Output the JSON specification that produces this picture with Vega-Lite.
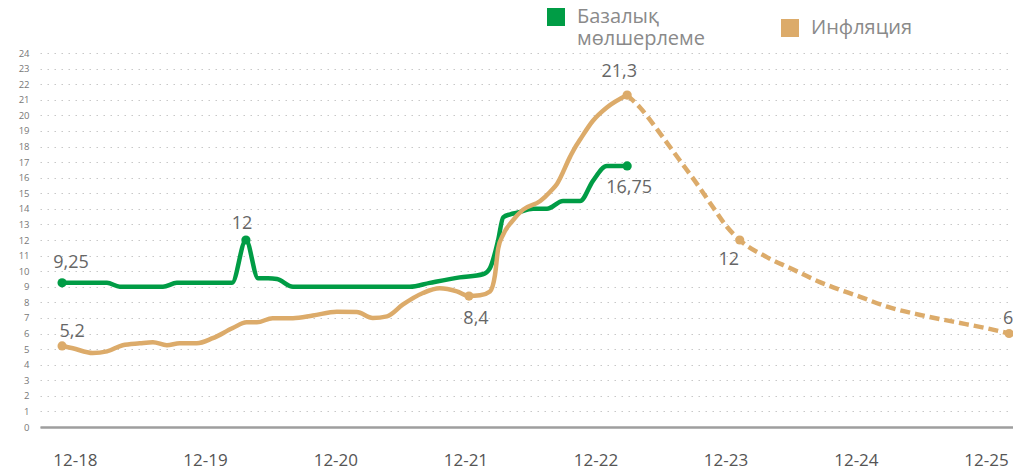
{
  "$schema": "https://vega.github.io/schema/vega-lite/v6.json",
  "width": 973,
  "height": 374,
  "autosize": {"type": "none"},
  "padding": {"left": 40, "top": 53, "right": 0, "bottom": 43},
  "background": "#ffffff",
  "config": {
    "view": {"stroke": null},
    "font": "Open Sans",
    "axis": {"labelFont": "Open Sans"},
    "legend": {"labelFont": "Open Sans"}
  },
  "data": {
    "values": [
      {"date": "2018-10-26", "value": 9.25, "series": "Базалық мөлшерлеме", "type": "fact", "label": "9,25"},
      {"date": "2019-01-12", "value": 9.25, "series": "Базалық мөлшерлеме", "type": "fact"},
      {"date": "2019-03-01", "value": 9.25, "series": "Базалық мөлшерлеме", "type": "fact"},
      {"date": "2019-04-06", "value": 9.0, "series": "Базалық мөлшерлеме", "type": "fact"},
      {"date": "2019-06-01", "value": 9.0, "series": "Базалық мөлшерлеме", "type": "fact"},
      {"date": "2019-08-05", "value": 9.0, "series": "Базалық мөлшерлеме", "type": "fact"},
      {"date": "2019-09-13", "value": 9.25, "series": "Базалық мөлшерлеме", "type": "fact"},
      {"date": "2019-12-01", "value": 9.25, "series": "Базалық мөлшерлеме", "type": "fact"},
      {"date": "2020-02-15", "value": 9.25, "series": "Базалық мөлшерлеме", "type": "fact"},
      {"date": "2020-03-25", "value": 12, "series": "Базалық мөлшерлеме", "type": "fact", "label": "12"},
      {"date": "2020-04-28", "value": 9.55, "series": "Базалық мөлшерлеме", "type": "fact"},
      {"date": "2020-05-26", "value": 9.55, "series": "Базалық мөлшерлеме", "type": "fact"},
      {"date": "2020-06-20", "value": 9.5, "series": "Базалық мөлшерлеме", "type": "fact"},
      {"date": "2020-08-04", "value": 9.0, "series": "Базалық мөлшерлеме", "type": "fact"},
      {"date": "2021-01-11", "value": 9.0, "series": "Базалық мөлшерлеме", "type": "fact"},
      {"date": "2021-06-28", "value": 9.0, "series": "Базалық мөлшерлеме", "type": "fact"},
      {"date": "2021-08-23", "value": 9.25, "series": "Базалық мөлшерлеме", "type": "fact"},
      {"date": "2021-11-15", "value": 9.6, "series": "Базалық мөлшерлеме", "type": "fact"},
      {"date": "2022-01-19", "value": 9.8, "series": "Базалық мөлшерлеме", "type": "fact"},
      {"date": "2022-02-08", "value": 10.2, "series": "Базалық мөлшерлеме", "type": "fact"},
      {"date": "2022-03-03", "value": 12.0, "series": "Базалық мөлшерлеме", "type": "fact"},
      {"date": "2022-03-17", "value": 13.45, "series": "Базалық мөлшерлеме", "type": "fact"},
      {"date": "2022-04-06", "value": 13.65, "series": "Базалық мөлшерлеме", "type": "fact"},
      {"date": "2022-04-25", "value": 13.75, "series": "Базалық мөлшерлеме", "type": "fact"},
      {"date": "2022-06-09", "value": 14.0, "series": "Базалық мөлшерлеме", "type": "fact"},
      {"date": "2022-07-18", "value": 14.0, "series": "Базалық мөлшерлеме", "type": "fact"},
      {"date": "2022-09-01", "value": 14.5, "series": "Базалық мөлшерлеме", "type": "fact"},
      {"date": "2022-10-19", "value": 14.5, "series": "Базалық мөлшерлеме", "type": "fact"},
      {"date": "2022-11-24", "value": 15.8, "series": "Базалық мөлшерлеме", "type": "fact"},
      {"date": "2023-01-02", "value": 16.75, "series": "Базалық мөлшерлеме", "type": "fact"},
      {"date": "2023-02-28", "value": 16.75, "series": "Базалық мөлшерлеме", "type": "fact", "label": "16,75"},

      {"date": "2018-10-26", "value": 5.2, "series": "Инфляция", "type": "fact", "label": "5,2"},
      {"date": "2018-11-25", "value": 5.05, "series": "Инфляция", "type": "fact"},
      {"date": "2019-01-20", "value": 4.75, "series": "Инфляция", "type": "fact"},
      {"date": "2019-03-01", "value": 4.85, "series": "Инфляция", "type": "fact"},
      {"date": "2019-04-14", "value": 5.25, "series": "Инфляция", "type": "fact"},
      {"date": "2019-06-01", "value": 5.37, "series": "Инфляция", "type": "fact"},
      {"date": "2019-07-08", "value": 5.44, "series": "Инфляция", "type": "fact"},
      {"date": "2019-08-16", "value": 5.25, "series": "Инфляция", "type": "fact"},
      {"date": "2019-09-21", "value": 5.37, "series": "Инфляция", "type": "fact"},
      {"date": "2019-11-08", "value": 5.37, "series": "Инфляция", "type": "fact"},
      {"date": "2019-12-23", "value": 5.7, "series": "Инфляция", "type": "fact"},
      {"date": "2020-02-17", "value": 6.35, "series": "Инфляция", "type": "fact"},
      {"date": "2020-03-27", "value": 6.72, "series": "Инфляция", "type": "fact"},
      {"date": "2020-04-25", "value": 6.72, "series": "Инфляция", "type": "fact"},
      {"date": "2020-06-08", "value": 6.98, "series": "Инфляция", "type": "fact"},
      {"date": "2020-08-04", "value": 6.98, "series": "Инфляция", "type": "fact"},
      {"date": "2020-09-29", "value": 7.15, "series": "Инфляция", "type": "fact"},
      {"date": "2020-12-05", "value": 7.4, "series": "Инфляция", "type": "fact"},
      {"date": "2021-01-30", "value": 7.38, "series": "Инфляция", "type": "fact"},
      {"date": "2021-03-16", "value": 7.0, "series": "Инфляция", "type": "fact"},
      {"date": "2021-04-25", "value": 7.1, "series": "Инфляция", "type": "fact"},
      {"date": "2021-06-08", "value": 7.85, "series": "Инфляция", "type": "fact"},
      {"date": "2021-08-04", "value": 8.6, "series": "Инфляция", "type": "fact"},
      {"date": "2021-09-20", "value": 8.9, "series": "Инфляция", "type": "fact"},
      {"date": "2021-11-07", "value": 8.7, "series": "Инфляция", "type": "fact"},
      {"date": "2021-12-11", "value": 8.4, "series": "Инфляция", "type": "fact", "label": "8,4"},
      {"date": "2022-01-11", "value": 8.45, "series": "Инфляция", "type": "fact"},
      {"date": "2022-02-08", "value": 8.7, "series": "Инфляция", "type": "fact"},
      {"date": "2022-02-22", "value": 9.75, "series": "Инфляция", "type": "fact"},
      {"date": "2022-03-03", "value": 11.45, "series": "Инфляция", "type": "fact"},
      {"date": "2022-03-17", "value": 12.35, "series": "Инфляция", "type": "fact"},
      {"date": "2022-04-11", "value": 13.2, "series": "Инфляция", "type": "fact"},
      {"date": "2022-05-12", "value": 13.95, "series": "Инфляция", "type": "fact"},
      {"date": "2022-06-29", "value": 14.5, "series": "Инфляция", "type": "fact"},
      {"date": "2022-07-27", "value": 15.1, "series": "Инфляция", "type": "fact"},
      {"date": "2022-08-15", "value": 15.6, "series": "Инфляция", "type": "fact"},
      {"date": "2022-09-21", "value": 17.35, "series": "Инфляция", "type": "fact"},
      {"date": "2022-10-05", "value": 17.95, "series": "Инфляция", "type": "fact"},
      {"date": "2022-10-19", "value": 18.45, "series": "Инфляция", "type": "fact"},
      {"date": "2022-11-24", "value": 19.65, "series": "Инфляция", "type": "fact"},
      {"date": "2023-01-02", "value": 20.5, "series": "Инфляция", "type": "fact"},
      {"date": "2023-02-28", "value": 21.3, "series": "Инфляция", "type": "fact", "label": "21,3"},

      {"date": "2023-02-28", "value": 21.3, "series": "Инфляция", "type": "forecast"},
      {"date": "2023-04-05", "value": 20.5, "series": "Инфляция", "type": "forecast"},
      {"date": "2023-06-08", "value": 18.6, "series": "Инфляция", "type": "forecast"},
      {"date": "2023-07-26", "value": 17.1, "series": "Инфляция", "type": "forecast"},
      {"date": "2023-09-12", "value": 15.6, "series": "Инфляция", "type": "forecast"},
      {"date": "2023-10-27", "value": 14.1, "series": "Инфляция", "type": "forecast"},
      {"date": "2023-12-05", "value": 12.85, "series": "Инфляция", "type": "forecast"},
      {"date": "2024-01-10", "value": 12, "series": "Инфляция", "type": "forecast", "label": "12"},
      {"date": "2024-03-26", "value": 10.9, "series": "Инфляция", "type": "forecast"},
      {"date": "2024-05-30", "value": 10.2, "series": "Инфляция", "type": "forecast"},
      {"date": "2024-08-22", "value": 9.3, "series": "Инфляция", "type": "forecast"},
      {"date": "2024-12-13", "value": 8.35, "series": "Инфляция", "type": "forecast"},
      {"date": "2025-02-27", "value": 7.72, "series": "Инфляция", "type": "forecast"},
      {"date": "2025-05-31", "value": 7.19, "series": "Инфляция", "type": "forecast"},
      {"date": "2025-08-31", "value": 6.76, "series": "Инфляция", "type": "forecast"},
      {"date": "2025-12-04", "value": 6.33, "series": "Инфляция", "type": "forecast"},
      {"date": "2026-02-04", "value": 6, "series": "Инфляция", "type": "forecast", "label": "6"}
    ]
  },
  "encoding": {
    "x": {
      "field": "date",
      "type": "temporal",
      "scale": {
        "type": "utc",
        "domain": [
          {"year": 2018, "month": 8, "date": 25, "utc": true},
          {"year": 2026, "month": 2, "date": 15, "utc": true}
        ]
      },
      "axis": {
        "title": null,
        "labelExpr": "utcFormat(datum.value, '%m-%y')",
        "values": [
          {"year": 2018, "month": 12, "date": 1, "utc": true},
          {"year": 2019, "month": 12, "date": 1, "utc": true},
          {"year": 2020, "month": 12, "date": 1, "utc": true},
          {"year": 2021, "month": 12, "date": 1, "utc": true},
          {"year": 2022, "month": 12, "date": 1, "utc": true},
          {"year": 2023, "month": 12, "date": 1, "utc": true},
          {"year": 2024, "month": 12, "date": 1, "utc": true},
          {"year": 2025, "month": 12, "date": 1, "utc": true}
        ],
        "grid": false,
        "ticks": false,
        "tickSize": 0,
        "domainColor": "#9e9e9e",
        "domainWidth": 2.5,
        "labelFontSize": 17,
        "labelColor": "#555555",
        "labelBaseline": "alphabetic",
        "labelPadding": 38,
        "labelFlush": false,
        "labelOverlap": false
      }
    },
    "y": {
      "field": "value",
      "type": "quantitative",
      "scale": {"domain": [0, 24], "nice": false},
      "axis": {
        "title": null,
        "values": [0,1,2,3,4,5,6,7,8,9,10,11,12,13,14,15,16,17,18,19,20,21,22,23,24],
        "domain": false,
        "ticks": false,
        "tickSize": 0,
        "labelFontSize": 9.5,
        "labelColor": "#777777",
        "labelPadding": 11,
        "gridColor": "#c8c8c8",
        "gridDash": [1.5, 5.5],
        "gridWidth": 1.2
      }
    }
  },
  "layer": [
    {
      "transform": [{"filter": "datum.type == 'fact'"}],
      "mark": {"type": "line", "interpolate": "monotone", "strokeWidth": 4.5, "strokeCap": "round", "strokeJoin": "round"},
      "encoding": {
        "detail": {"field": "series"},
        "color": {
          "field": "series",
          "type": "nominal",
          "scale": {"domain": ["Базалық мөлшерлеме", "Инфляция"], "range": ["#009c45", "#dcab6a"]},
          "legend": {
            "title": null,
            "orient": "none",
            "legendX": 506,
            "legendY": -46,
            "direction": "horizontal",
            "columns": 2,
            "columnPadding": 75,
            "padding": 0,
            "symbolType": "square",
            "symbolSize": 324,
            "symbolStrokeWidth": 0,
            "labelOffset": 11,
            "labelFontSize": 20,
            "labelColor": "#8a8a8a",
            "labelLimit": 400,
            "labelExpr": "datum.label == 'Базалық мөлшерлеме' ? ['Базалық', 'мөлшерлеме'] : datum.label",
            "encode": {
              "symbols": {
                "update": {
                  "fill": {"scale": "color", "field": "value"},
                  "stroke": {"value": "transparent"},
                  "shape": {"value": "square"},
                  "opacity": {"value": 1}
                }
              }
            }
          }
        }
      }
    },
    {
      "transform": [{"filter": "datum.type == 'forecast'"}],
      "mark": {"type": "line", "interpolate": "monotone", "strokeWidth": 4.5, "strokeDash": [10, 5]},
      "encoding": {
        "color": {"field": "series", "type": "nominal"}
      }
    },
    {
      "transform": [{"filter": "isValid(datum.label)"}],
      "mark": {"type": "point", "filled": true, "opacity": 1, "size": 85, "shape": "circle"},
      "encoding": {
        "color": {"field": "series", "type": "nominal"}
      }
    },
    {
      "transform": [{"filter": "datum.label == '9,25'"}],
      "mark": {"type": "text", "fontSize": 18, "color": "#666666", "align": "center", "baseline": "alphabetic", "dx": 9, "dy": -15},
      "encoding": {"text": {"field": "label"}}
    },
    {
      "transform": [{"filter": "datum.label == '12' && datum.type == 'fact'"}],
      "mark": {"type": "text", "fontSize": 18, "color": "#666666", "align": "center", "baseline": "alphabetic", "dx": -4, "dy": -11},
      "encoding": {"text": {"field": "label"}}
    },
    {
      "transform": [{"filter": "datum.label == '16,75'"}],
      "mark": {"type": "text", "fontSize": 18, "color": "#666666", "align": "center", "baseline": "alphabetic", "dx": 2, "dy": 27},
      "encoding": {"text": {"field": "label"}}
    },
    {
      "transform": [{"filter": "datum.label == '5,2'"}],
      "mark": {"type": "text", "fontSize": 18, "color": "#666666", "align": "center", "baseline": "alphabetic", "dx": 10, "dy": -9},
      "encoding": {"text": {"field": "label"}}
    },
    {
      "transform": [{"filter": "datum.label == '8,4'"}],
      "mark": {"type": "text", "fontSize": 18, "color": "#666666", "align": "center", "baseline": "alphabetic", "dx": 7, "dy": 28},
      "encoding": {"text": {"field": "label"}}
    },
    {
      "transform": [{"filter": "datum.label == '21,3'"}],
      "mark": {"type": "text", "fontSize": 18, "color": "#666666", "align": "center", "baseline": "alphabetic", "dx": -8, "dy": -18},
      "encoding": {"text": {"field": "label"}}
    },
    {
      "transform": [{"filter": "datum.label == '12' && datum.type == 'forecast'"}],
      "mark": {"type": "text", "fontSize": 18, "color": "#666666", "align": "center", "baseline": "alphabetic", "dx": -11, "dy": 25},
      "encoding": {"text": {"field": "label"}}
    },
    {
      "transform": [{"filter": "datum.label == '6'"}],
      "mark": {"type": "text", "fontSize": 18, "color": "#666666", "align": "center", "baseline": "alphabetic", "dx": -1, "dy": -10},
      "encoding": {"text": {"field": "label"}}
    }
  ]
}
